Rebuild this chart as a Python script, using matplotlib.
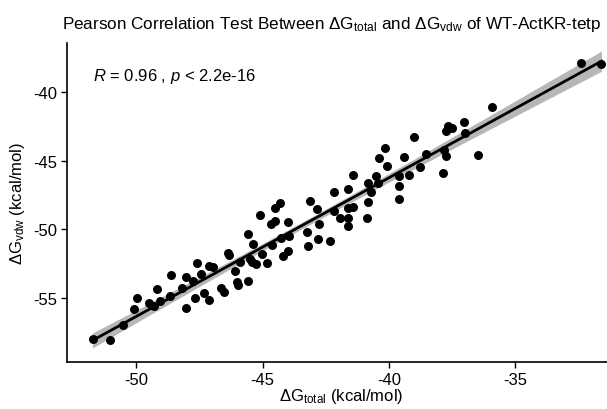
import numpy as np
import matplotlib
matplotlib.use('Agg')
import matplotlib.pyplot as plt

plt.rcParams['font.family'] = ['Liberation Sans', 'DejaVu Sans']
plt.rcParams['mathtext.fontset'] = 'custom'
plt.rcParams['mathtext.rm'] = 'Liberation Sans'
plt.rcParams['mathtext.it'] = 'Liberation Sans:italic'
plt.rcParams['axes.unicode_minus'] = False

# dG total (x) and dG vdw (y)
dg_total = [-51.73, -51.03, -50.53, -50.08, -49.97, -49.49, -49.28, -49.18, -49.05, -48.66,
            -48.64, -48.20, -48.04, -48.02, -47.77, -47.67, -47.58, -47.43, -47.30, -47.11,
            -47.11, -46.96, -46.64, -46.52, -46.35, -46.32, -46.09, -46.03, -45.97, -45.89,
            -45.56, -45.57, -45.49, -45.42, -45.36, -45.26, -45.10, -45.01, -44.83, -44.68,
            -44.51, -44.51, -44.31, -44.64, -44.29, -44.21, -43.98, -43.96, -43.98, -43.23,
            -43.22, -43.13, -42.83, -42.75, -42.82, -42.33, -42.19, -42.17, -41.94, -41.63,
            -41.61, -41.44, -41.41, -41.61, -41.61, -40.88, -40.84, -40.82, -40.71, -40.53,
            -40.45, -40.38, -40.14, -40.07, -39.60, -39.60, -39.60, -39.41, -39.20, -39.00,
            -38.77, -38.54, -37.88, -37.81, -37.75, -37.76, -37.68, -37.51, -37.02, -36.99,
            -36.49, -35.92, -32.39, -31.59]
dg_vdw = [-57.98, -58.09, -56.96, -55.83, -54.99, -55.36, -55.61, -54.34, -55.21, -54.82,
          -53.32, -54.29, -53.44, -55.69, -53.72, -54.99, -52.44, -53.24, -54.63, -55.17,
          -52.64, -52.71, -54.26, -54.56, -51.68, -51.89, -53.06, -53.83, -54.05, -52.39,
          -50.33, -53.73, -52.15, -52.37, -51.03, -52.55, -48.94, -51.79, -52.44, -49.60,
          -49.36, -48.47, -48.09, -51.15, -50.60, -51.91, -49.45, -50.47, -51.55, -50.17,
          -51.24, -47.92, -48.51, -49.62, -50.71, -50.87, -47.29, -48.63, -49.16, -48.43,
          -47.05, -48.34, -46.03, -49.20, -49.72, -49.20, -46.65, -48.00, -47.27, -46.10,
          -46.65, -44.79, -44.07, -45.41, -46.08, -46.81, -47.78, -44.69, -46.01, -43.24,
          -45.44, -44.50, -45.92, -44.21, -44.62, -42.84, -42.43, -42.60, -42.14, -42.97,
          -44.55, -41.05, -37.86, -37.96]
x_ticks = [-50, -45, -40, -35]
y_ticks = [-55, -50, -45, -40]

x = np.array(dg_total)
y = np.array(dg_vdw)

# linear fit + 95% confidence band (like geom_smooth(method = "lm"))
n = len(x)
slope, intercept = np.polyfit(x, y, 1)
resid = y - (slope * x + intercept)
s = np.sqrt(np.sum(resid ** 2) / (n - 2))
sxx = np.sum((x - x.mean()) ** 2)
xg = np.linspace(x.min(), x.max(), 100)
yg = slope * xg + intercept
se = s * np.sqrt(1.0 / n + (xg - x.mean()) ** 2 / sxx)
t = 1.986

W, H = 607, 410
fig = plt.figure(figsize=(W / 100, H / 100), dpi=100)
left, right, top, bottom = 67, 627, 44, 363
ax = fig.add_axes([left / W, 1 - bottom / H, (right - left) / W, (bottom - top) / H])

ax.fill_between(xg, yg - t * se, yg + t * se, color='#999999', alpha=0.7, linewidth=0, zorder=1)
ax.scatter(x, y, s=42, color='black', linewidths=0, zorder=2)
ax.plot(xg, yg, color='black', linewidth=2.0, zorder=3)

ax.set_xlim(-52.74, -30.58)
ax.set_ylim(-59.66, -36.41)
ax.set_xticks(x_ticks)
ax.set_yticks(y_ticks)
ax.tick_params(labelsize=12, length=4, width=1, colors='black', pad=3)

for side in ['top', 'right']:
    ax.spines[side].set_visible(False)
for side in ['left', 'bottom']:
    ax.spines[side].set_linewidth(1.2)

ax.set_xlabel(r'ΔG$_{\mathrm{total}}$ (kcal/mol)', fontsize=12)
ax.xaxis.set_label_coords((341 - left) / (right - left), -0.075)
ax.set_ylabel(r'ΔG$_{\mathrm{vdw}}$ (kcal/mol)', fontsize=12)
ax.yaxis.set_label_coords(-0.072, 0.5)

ax.text(-51.7, -38.8, r'$\it{R}$ = 0.96 , $\it{p}$ < 2.2e-16', fontsize=12, va='center', ha='left')

fig.text(62 / W, 1 - 25 / H, r'Pearson Correlation Test Between ΔG$_{\mathrm{total}}$ and ΔG$_{\mathrm{vdw}}$ of WT-ActKR-tetp',
         fontsize=12.3, ha='left', va='center')

plt.savefig('out.png', dpi=100)
